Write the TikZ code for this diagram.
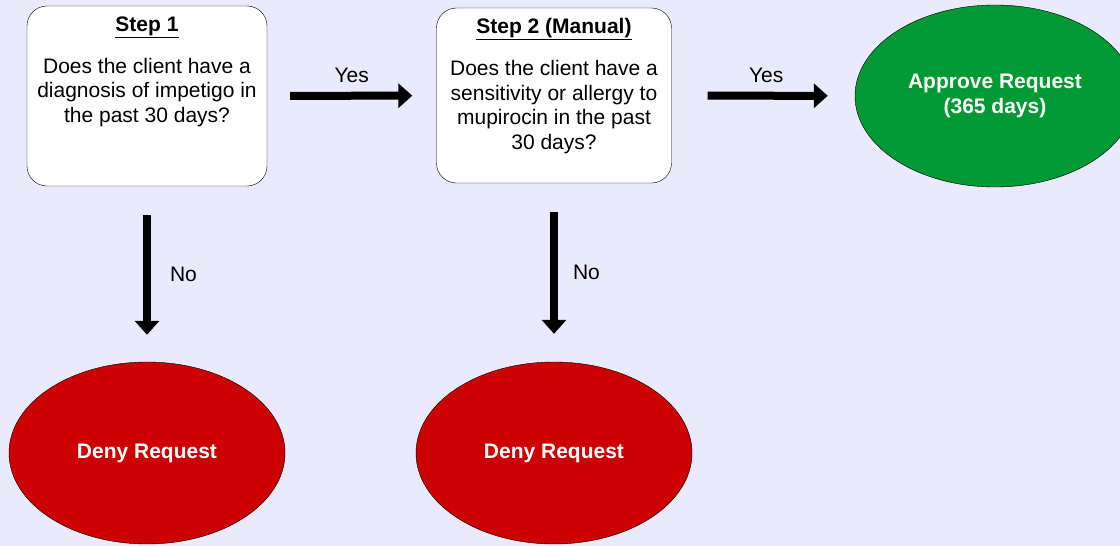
\documentclass[tikz,border=0pt]{standalone}
\usepackage{fontspec}
\setmainfont{Liberation Sans}
\usepackage{tikz}
\usetikzlibrary{positioning, shapes.geometric, arrows.meta}
\definecolor{bgblue}{RGB}{234,234,252}
\definecolor{approvegreen}{RGB}{0,153,51}
\definecolor{denyred}{RGB}{204,0,0}

\begin{document}
\begin{tikzpicture}[x=1pt, y=-1pt, font=\fontsize{21}{24.5}\selectfont, question/.style={rectangle, draw=black, fill=white, thin, rounded corners=20pt, inner sep=0pt}, asktext/.style={align=center, inner sep=0pt}, approve/.style={ellipse, draw=black, fill=approvegreen, text=white, font=\fontsize{21}{24.5}\selectfont\bfseries, align=center, inner sep=0pt, minimum width=280pt, minimum height=182pt}, deny/.style={ellipse, draw=black, fill=denyred, text=white, font=\fontsize{21}{24.5}\selectfont\bfseries, inner sep=0pt, minimum width=276pt, minimum height=182pt}, flow/.style={line width=8pt, -{Triangle[length=14pt, width=24pt]}}, answer/.style={inner sep=0pt}]

    \useasboundingbox (0,0) rectangle (1120,546);
    \fill[bgblue] (0,0) rectangle (1120,546);

    % Nodes
    \node[question, minimum width=240pt, minimum height=180pt] (step1)   at (147,96)     {};
    \node[question, minimum width=235pt, minimum height=175pt] (step2)   at (554,95.5)   {};
    \node[approve]  (approve)   at (995,96)     {Approve Request\\(365 days)};
    \node[deny]     (deny1)     at (147,453)    {Deny Request};
    \node[deny]     (deny2)     at (554,453)    {Deny Request};

    \node[asktext]  (ask1)  [below=10.5pt of step1.north]  {\textbf{\underline{Step 1}}\\[17.5pt]Does the client have a\\diagnosis of impetigo in\\the past 30 days?};
    \node[asktext]  (ask2)  [below=10.5pt of step2.north]  {\textbf{\underline{Step 2 (Manual)}}\\[17.5pt]Does the client have a\\sensitivity or allergy to\\mupirocin in the past\\30 days?};

    % Lines ---------------
    \draw[flow, shorten <=23pt, shorten >=24pt] (step1) -- node[answer, above=9pt] (yes1) {Yes} (step2);
    \draw[flow, shorten <=36pt, shorten >=27pt] (step2) -- node[answer, above=9pt, xshift=3pt] (yes2) {Yes} (approve);
    \draw[flow, shorten <=29pt, shorten >=27pt] (step1) -- node[answer, right=19pt] (no1) {No} (deny1);
    \draw[flow, shorten <=29pt, shorten >=28pt] (step2) -- node[answer, right=15pt] (no2) {No} (deny2);

\end{tikzpicture}
\end{document}
